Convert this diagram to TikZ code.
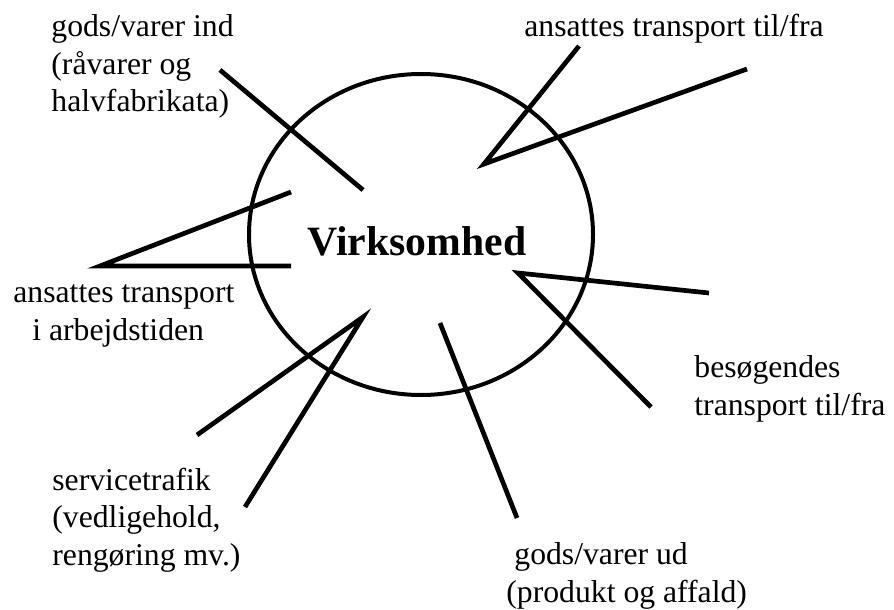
\documentclass[tikz,border=0pt]{standalone}
\usepackage{fontspec}
\setmainfont{Liberation Serif}
\usetikzlibrary{shapes.geometric}
\begin{document}
\begin{tikzpicture}[x=0.5pt, y=-0.5pt,
  spoke/.style={line width=2.35pt},
  lbl/.style={anchor=base west, inner sep=0pt, align=left, font=\fontsize{15.85}{18.75}\selectfont}]
\useasboundingbox (0,0) rectangle (894,610);

% Virksomhed
\node[draw, ellipse, line width=2pt, inner sep=0pt, minimum width=172pt, minimum height=160.5pt] (firm) at (421,234.5) {};
\node[anchor=base, inner sep=0pt, font=\fontsize{20.85}{24}\selectfont\bfseries] (firmname) at (417,255) {Virksomhed};

% endepunkter for linjerne
\coordinate (indA) at (220,70);   \coordinate (indB) at (363,190);
\coordinate (stA) at (579,46);    \coordinate (stT) at (484,164);   \coordinate (stB) at (747,69);
\coordinate (wkA) at (291,192);   \coordinate (wkT) at (100,266);   \coordinate (wkB) at (291,266);
\coordinate (viA) at (709,293);   \coordinate (viT) at (518,273);   \coordinate (viB) at (651,407);
\coordinate (svA) at (197,435);   \coordinate (svT) at (363,317);   \coordinate (svB) at (245,507);
\coordinate (udA) at (440,323);   \coordinate (udB) at (517,518);

\draw[spoke] (indA) -- (indB);
\draw[spoke] (stA) -- (stT) -- (stB);
\draw[spoke] (wkA) -- (wkT) -- (wkB);
\draw[spoke] (viA) -- (viT) -- (viB);
\draw[spoke] (svA) -- (svT) -- (svB);
\draw[spoke] (udA) -- (udB);

% tekster (base = sidste linjes grundlinje)
\node[lbl] (ind) at (51,112) {gods/varer ind\\(råvarer og\\halvfabrikata)};
\node[lbl] (staff) at (524,37) {ansattes transport til/fra};
\node[lbl] (work) at (13,340) {ansattes transport\\\hspace*{9.5pt}i arbejdstiden};
\node[lbl] (visit) at (694,415) {besøgendes\\transport til/fra};
\node[lbl] (service) at (52,565) {servicetrafik\\(vedligehold,\\rengøring mv.)};
\node[lbl] (ud) at (506,602) {\hspace*{4pt}gods/varer ud\\(produkt og affald)};
\end{tikzpicture}
\end{document}
